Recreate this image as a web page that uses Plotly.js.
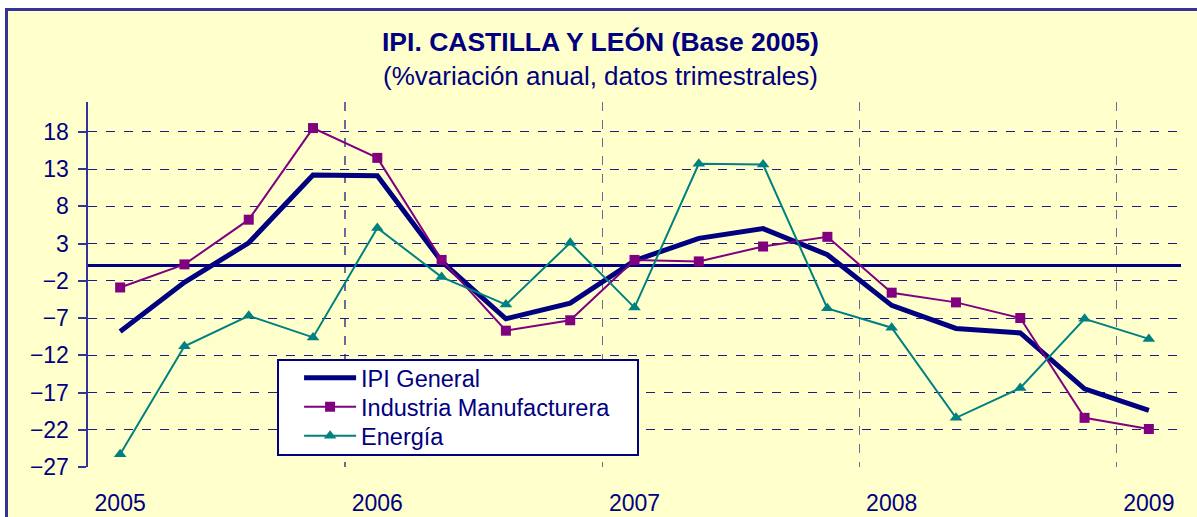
<!DOCTYPE html>
<html>
<head>
<meta charset="utf-8">
<script src="https://cdn.plot.ly/plotly-3.0.1.min.js"></script>
<style>
  html, body { margin: 0; padding: 0; background: #ffffff; width: 1197px; height: 517px; overflow: hidden; }
  #frame { position: absolute; left: 5px; top: 8px; width: 1192px; height: 509px; background: #FFFFCC;
           border-left: 3px solid #333399; border-top: 3px solid #333399; box-sizing: border-box; }
  #chart { position: absolute; left: 0; top: 0; width: 1189px; height: 506px; }
</style>
</head>
<body>
<div id="frame"><div id="chart"></div></div>
<script>
// Quarters (2005 T1 .. 2009 T1)
const quarters = ['2005 T1','2005 T2','2005 T3','2005 T4',
                  '2006 T1','2006 T2','2006 T3','2006 T4',
                  '2007 T1','2007 T2','2007 T3','2007 T4',
                  '2008 T1','2008 T2','2008 T3','2008 T4',
                  '2009 T1'];
const yearLabels = ['2005','2006','2007','2008','2009'];
const yearTickIdx = [0, 4, 8, 12, 16];
const yearBoundaries = [3.5, 7.5, 11.5, 15.5];

const ipiGeneral = [-8.8, -2.2, 3.1, 12.2, 12.1, 0.6, -7.1, -5.0, 0.7, 3.7, 5.0, 1.5, -5.3, -8.4, -9.0, -16.5, -19.4];
const industria  = [-2.9, 0.2, 6.2, 18.5, 14.5, 0.8, -8.7, -7.3, 0.8, 0.6, 2.6, 3.9, -3.6, -4.9, -7.0, -20.4, -21.9];
const energia    = [-25.3, -10.8, -6.7, -9.6, 5.1, -1.5, -5.2, 3.1, -5.6, 13.7, 13.6, -5.7, -8.3, -20.4, -16.4, -7.1, -9.8];

const xIdx = quarters.map((q, i) => i);
const FONT = 'Arial, "Liberation Sans", sans-serif';
const NAVY = '#000080';

const traces = [
  { x: xIdx, y: ipiGeneral, name: 'IPI General', type: 'scatter', mode: 'lines',
    line: { color: NAVY, width: 5 } },
  { x: xIdx, y: industria, name: 'Industria Manufacturera', type: 'scatter', mode: 'lines+markers',
    line: { color: '#800080', width: 2 }, marker: { symbol: 'square', size: 10, color: '#800080' } },
  { x: xIdx, y: energia, name: 'Energía', type: 'scatter', mode: 'lines+markers',
    line: { color: '#008080', width: 2 }, marker: { symbol: 'triangle-up', size: 11, color: '#008080' } }
];

const layout = {
  width: 1189, height: 506,
  margin: { l: 80, r: 16, t: 91, b: 50 },
  paper_bgcolor: 'rgba(0,0,0,0)',
  plot_bgcolor: 'rgba(0,0,0,0)',
  font: { family: FONT, color: NAVY, size: 22 },
  showlegend: true,
  legend: {
    x: 0.173, y: 0.296, xanchor: 'left', yanchor: 'top',
    bgcolor: '#ffffff', bordercolor: NAVY, borderwidth: 2,
    font: { family: FONT, size: 23.5, color: NAVY },
    itemwidth: 52, indentation: 20, tracegroupgap: 0
  },
  xaxis: {
    range: [-0.5, 16.5], fixedrange: true,
    tickmode: 'array', tickvals: yearTickIdx, ticktext: yearLabels,
    ticks: '', showgrid: false, zeroline: false, showline: false,
    ticklabelstandoff: 20,
    tickfont: { family: FONT, size: 23, color: NAVY },
    minor: { tickmode: 'array', tickvals: yearBoundaries, showgrid: true,
             gridcolor: '#6a6a9c', gridwidth: 1.5, griddash: 'dash', ticks: '' }
  },
  yaxis: {
    range: [-27, 22], fixedrange: true,
    tickmode: 'linear', tick0: -27, dtick: 5,
    ticks: 'outside', ticklen: 8, tickwidth: 2, tickcolor: '#333399',
    showline: true, linecolor: '#333399', linewidth: 2.5,
    showgrid: true, gridcolor: '#1c1c88', gridwidth: 1, griddash: 'dash',
    zeroline: true, zerolinecolor: NAVY, zerolinewidth: 3,
    ticklabelstandoff: 4,
    tickfont: { family: FONT, size: 23, color: NAVY }
  },
  annotations: [
    { text: '<b>IPI. CASTILLA Y LEÓN (Base 2005)</b>', xref: 'paper', yref: 'paper',
      x: 0.469, y: 1.164, xanchor: 'center', yanchor: 'middle', showarrow: false,
      font: { family: FONT, size: 26.5, color: NAVY } },
    { text: '(%variación anual, datos trimestrales)', xref: 'paper', yref: 'paper',
      x: 0.469, y: 1.0712, xanchor: 'center', yanchor: 'middle', showarrow: false,
      font: { family: FONT, size: 26, color: NAVY } }
  ]
};

Plotly.newPlot('chart', traces, layout, { displayModeBar: false, staticPlot: true }).then(function (gd) {
  // tighten legend rows to the reference spacing
  const leg = gd.querySelector('.legend');
  if (!leg) return;
  const items = leg.querySelectorAll('.traces');
  items.forEach(function (el, i) {
    const m = /translate\(\s*([-\d.]+)[ ,]+([-\d.]+)\s*\)/.exec(el.getAttribute('transform') || '');
    if (!m) return;
    if (i === 0) el.dataset.y0 = m[2];
    const y0 = parseFloat(items[0].dataset.y0 || m[2]);
    el.setAttribute('transform', 'translate(' + m[1] + ',' + (y0 - 5 + 29 * i) + ')');
  });
  const bg = leg.querySelector('rect.bg');
  if (bg) { bg.setAttribute('height', 95); bg.setAttribute('width', 360); }
  const clip = document.querySelector('clipPath[id*="legend"] rect');
  if (clip) { clip.setAttribute('height', 95); clip.setAttribute('width', 360); }
});
</script>
</body>
</html>
